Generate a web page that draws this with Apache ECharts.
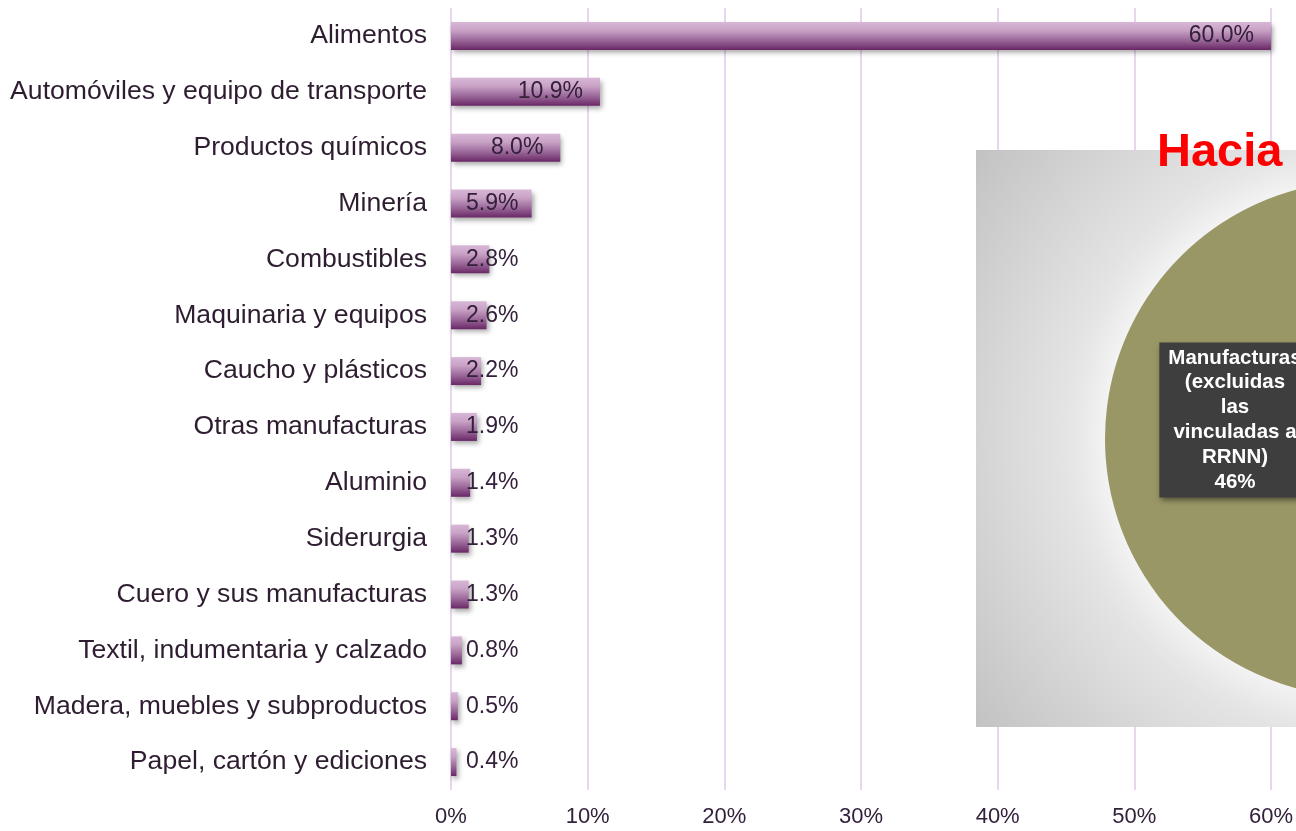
<!DOCTYPE html>
<html>
<head>
<meta charset="utf-8">
<script src="https://cdn.jsdelivr.net/npm/echarts@6/dist/echarts.min.js"></script>
<style>
html,body{margin:0;padding:0;background:#fff;}
#chart{width:1296px;height:831px;}
</style>
</head>
<body>
<div id="chart"></div>
<script>
const categories = [
  'Alimentos',
  'Automóviles y equipo de transporte',
  'Productos químicos',
  'Minería',
  'Combustibles',
  'Maquinaria y equipos',
  'Caucho y plásticos',
  'Otras manufacturas',
  'Aluminio',
  'Siderurgia',
  'Cuero y sus manufacturas',
  'Textil, indumentaria y calzado',
  'Madera, muebles y subproductos',
  'Papel, cartón y ediciones'
];
const shares = [60.0, 10.9, 8.0, 5.9, 2.8, 2.6, 2.2, 1.9, 1.4, 1.3, 1.3, 0.8, 0.5, 0.4];
const xTicks = { min: 0, max: 60, interval: 10 };

const insetTitle = 'Hacia';
const pieNames = ['Manufacturas\n(excluidas\nlas\nvinculadas a\nRRNN)', 'Resto'];
const pieValues = [46, 54];

const FONT = '"Liberation Sans", Arial, Helvetica, sans-serif';

const chart = echarts.init(document.getElementById('chart'));

const barGradient = new echarts.graphic.LinearGradient(0, 0, 0, 1, [
  { offset: 0, color: '#d8b7d6' },
  { offset: 0.3, color: '#c9a2c6' },
  { offset: 0.7, color: '#946093' },
  { offset: 1, color: '#6a2766' }
]);

const barData = shares.map(v => ({
  value: v,
  label: v >= 8
    ? { position: 'insideRight', distance: 17 }
    : { position: 'insideLeft', distance: 15 }
}));

const cx = 1363, cy = 439, R = 258;
const slice = pieValues[0] / (pieValues[0] + pieValues[1]) * 360;

const option = {
  animation: false,
  backgroundColor: '#ffffff',
  textStyle: { fontFamily: FONT },
  grid: { left: 451, right: 25, top: 8, bottom: 41, containLabel: false },
  xAxis: {
    type: 'value',
    min: xTicks.min, max: xTicks.max, interval: xTicks.interval,
    axisLine: { show: false },
    axisTick: { show: false },
    axisLabel: {
      formatter: '{value}%',
      color: '#33203a',
      fontFamily: FONT,
      fontSize: 22,
      margin: 16
    },
    splitLine: { show: true, lineStyle: { color: '#e8d6ee', width: 2 } }
  },
  yAxis: {
    type: 'category',
    inverse: true,
    data: categories,
    axisLine: { show: false },
    axisTick: { show: false },
    axisLabel: {
      color: '#2e1d30',
      fontFamily: FONT,
      fontSize: 26.6,
      margin: 24
    }
  },
  series: [
    {
      type: 'bar',
      data: barData,
      barWidth: 28,
      z: 2,
      itemStyle: {
        color: barGradient,
        shadowColor: 'rgba(0,0,0,0.35)',
        shadowBlur: 5,
        shadowOffsetX: 2,
        shadowOffsetY: 3
      },
      label: {
        show: true,
        formatter: p => p.value.toFixed(1) + '%',
        color: '#33203a',
        fontFamily: FONT,
        fontSize: 23
      }
    },
    {
      type: 'pie',
      z: 5,
      center: [cx, cy],
      radius: [0, R],
      startAngle: 180 + slice / 2,
      clockwise: true,
      silent: true,
      label: { show: false },
      labelLine: { show: false },
      data: [
        {
          name: pieNames[0], value: pieValues[0],
          itemStyle: { color: '#9a9766', shadowColor: 'rgba(255,255,255,0.95)', shadowBlur: 40 },
          label: {
            show: true,
            position: 'inside',
            offset: [4, -19],
            formatter: p => p.name + '\n' + p.value + '%',
            color: '#ffffff',
            fontWeight: 'bold',
            fontFamily: FONT,
            fontSize: 20.5,
            lineHeight: 24.8,
            align: 'center',
            backgroundColor: '#3e3e3e',
            padding: [3, 9, 3, 9],
            shadowColor: 'rgba(0,0,0,0.5)',
            shadowBlur: 6,
            shadowOffsetX: 2,
            shadowOffsetY: 3
          }
        },
        { name: pieNames[1], value: pieValues[1], itemStyle: { color: '#9a9766' } }
      ]
    }
  ],
  graphic: [
    {
      type: 'rect',
      z: 3,
      shape: { x: 976, y: 150, width: 340, height: 577 },
      style: {
        fill: {
          type: 'radial',
          x: cx, y: cy, r: 500, global: true,
          colorStops: [
            { offset: 0, color: '#f2f2f2' },
            { offset: 0.55, color: '#e8e8e8' },
            { offset: 1, color: '#bfbfbf' }
          ]
        }
      }
    },
    {
      type: 'text',
      z: 10,
      x: 1157, y: 153,
      style: {
        text: insetTitle,
        fill: '#ff0000',
        font: 'bold 47px "Liberation Sans", Arial, sans-serif',
        textVerticalAlign: 'middle'
      }
    }
  ]
};

chart.setOption(option);
</script>
</body>
</html>
